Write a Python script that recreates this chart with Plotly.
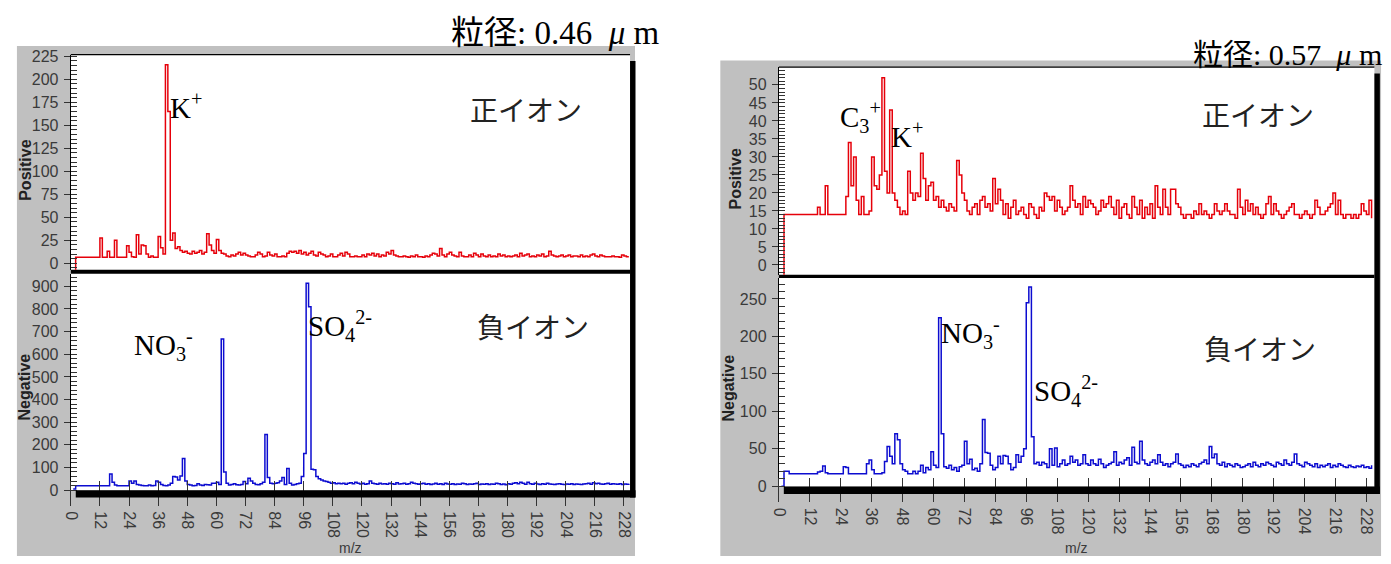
import plotly.graph_objects as go

W, H = 1391, 564

# ---------------- data (m/z 1..230) ----------------
mz = list(range(1, 231))

pos_046 = [
    -15, 6.5, 6.5, 6.5, 6.5, 6.5, 6.5, 6.5, 6.5, 6.5,
    6.5, 27.5, 6.5, 6.5, 13, 6.5, 6.5, 25, 6.5, 6.5,
    6.5, 6.5, 19, 12, 7, 6.5, 31, 10, 20, 19,
    10, 6.5, 8, 6.5, 6.5, 29, 17, 10, 216, 165,
    25, 33, 16, 18, 14, 12, 13, 11, 10, 13,
    11, 12, 14, 10, 12, 32, 20, 14, 11, 26,
    14, 11, 10, 8, 7, 9, 8, 10, 12, 9,
    11, 9, 8, 7, 7, 9, 12, 10, 7, 8,
    12, 9, 8, 10, 7, 7, 8, 7, 11, 13,
    12, 13, 11, 14, 10, 12, 9, 11, 13, 9,
    8, 12, 10, 9, 7, 8, 10, 7, 7, 9,
    11, 8, 12, 10, 7, 7, 8, 7, 7, 9,
    7, 10, 9, 11, 8, 10, 7, 9, 8, 12,
    10, 14, 9, 8, 7, 7, 8, 7, 6.5, 8,
    7, 9, 7, 7, 6.5, 8, 7, 9, 11, 10,
    8, 16, 9, 7, 10, 12, 9, 8, 7, 12,
    8, 7, 7, 9, 7, 11, 9, 7, 10, 8,
    7, 9, 7, 8, 7, 10, 8, 9, 7, 8,
    7, 8, 9, 7, 11, 8, 9, 10, 7, 8,
    7, 9, 8, 10, 7, 8, 13, 9, 8, 7,
    8, 9, 7, 8, 9, 7, 8, 8, 7, 9,
    7, 8, 7, 9, 10, 8, 7, 9, 8, 7,
    7, 7, 8, 7, 7, 6.5, 9, 8, 7, 7,
]

neg_046 = [
    5, 19, 19, 19, 19, 19, 19, 19, 19, 19,
    19, 19, 19, 19, 19, 71, 35, 22, 19, 19,
    19, 19, 19, 40, 30, 40, 25, 22, 20, 19,
    19, 22, 19, 20, 40, 35, 25, 20, 19, 22,
    30, 60, 58, 45, 62, 140, 40, 25, 22, 19,
    20, 28, 22, 20, 25, 24, 22, 30, 30, 35,
    25, 667, 80, 30, 22, 25, 28, 24, 22, 25,
    38, 28, 52, 40, 30, 25, 24, 28, 35, 245,
    55, 30, 28, 30, 32, 40, 56, 25, 95, 30,
    22, 25, 28, 30, 60, 162, 914, 810, 92, 90,
    60, 50, 45, 40, 38, 35, 30, 32, 28, 30,
    28, 30, 26, 30, 32, 28, 35, 30, 27, 30,
    26, 28, 40, 30, 28, 26, 30, 27, 28, 26,
    30, 28, 26, 32, 27, 28, 30, 26, 28, 35,
    30, 28, 26, 28, 30, 26, 28, 25, 27, 30,
    26, 28, 25, 30, 27, 26, 28, 25, 27, 26,
    30, 28, 25, 27, 26, 28, 30, 25, 27, 26,
    28, 25, 27, 26, 30, 28, 25, 27, 24, 28,
    26, 30, 32, 28, 35, 30, 26, 34, 28, 26,
    30, 27, 25, 28, 26, 30, 27, 26, 25, 27,
    28, 26, 25, 27, 26, 28, 25, 27, 26, 25,
    27, 28, 30, 26, 32, 28, 30, 27, 26, 28,
    30, 26, 28, 27, 26, 28, 25, 27, 26, 28,
]

pos_057 = [
    -10, 14, 14, 14, 14, 14, 14, 14, 14, 14,
    14, 14, 14, 14, 16, 14, 14, 22, 14, 14,
    14, 14, 14, 14, 14, 19, 34, 22, 30, 18,
    14, 19, 14, 14, 15, 30, 22, 21, 25, 52,
    26, 20, 43, 20, 18, 16, 14, 15, 14, 26,
    20, 18, 20, 19, 31, 24, 18, 22, 23, 18,
    19, 16, 18, 16, 15, 17, 16, 15, 29, 25,
    20, 18, 15, 14, 16, 17, 14, 18, 19, 16,
    17, 15, 24, 17, 21, 18, 14, 17, 13, 16,
    18, 14, 15, 16, 14, 13, 17, 16, 14, 13,
    16, 15, 20, 19, 18, 19, 15, 18, 16, 14,
    15, 16, 22, 18, 16, 17, 14, 19, 16, 18,
    17, 16, 14, 15, 18, 16, 17, 19, 16, 14,
    18, 13, 16, 17, 14, 13, 19, 16, 14, 18,
    13, 16, 14, 17, 13, 22, 16, 14, 21, 16,
    14, 21, 21, 17, 16, 14, 13, 14, 14, 13,
    15, 14, 17, 14, 15, 14, 13, 14, 17, 15,
    14, 15, 17, 15, 14, 14, 13, 21, 16, 14,
    18, 15, 17, 14, 16, 14, 13, 14, 17, 19,
    14, 17, 15, 14, 13, 14, 15, 16, 17, 14,
    14, 13, 14, 15, 14, 13, 14, 18, 16, 14,
    14, 15, 16, 17, 20, 14, 18, 14, 13, 14,
    14, 13, 14, 13, 14, 17, 15, 14, 18, 13,
]

neg_057 = [
    0, 20, 20, 16.5, 16.5, 16.5, 16.5, 16.5, 16.5, 16.5,
    16.5, 16.5, 16.5, 16.5, 19, 20, 27, 18, 16.5, 16.5,
    16.5, 16.5, 16.5, 16.5, 26, 25, 16.5, 16.5, 16.5, 16.5,
    16.5, 16.5, 16.5, 30, 35, 22, 16.5, 16.5, 16.5, 18,
    33, 53, 40, 30, 70, 62, 30, 22, 20, 16.5,
    16.5, 20, 16.5, 20, 28, 18, 25, 22, 46, 28,
    25, 225, 70, 26, 24, 28, 22, 25, 20, 26,
    28, 60, 30, 36, 22, 24, 20, 30, 89, 45,
    44, 28, 22, 25, 40, 30, 41, 40, 30, 22,
    25, 42, 32, 40, 50, 245, 266, 66, 30, 32,
    28, 32, 30, 25, 50, 28, 51, 26, 30, 35,
    28, 30, 40, 32, 35, 28, 30, 42, 30, 28,
    35, 30, 28, 36, 30, 25, 28, 30, 32, 46,
    28, 32, 30, 35, 38, 28, 52, 32, 30, 60,
    35, 30, 28, 32, 35, 30, 42, 32, 28, 30,
    26, 30, 32, 43, 30, 28, 25, 28, 26, 30,
    28, 26, 30, 32, 35, 30, 53, 38, 43, 30,
    28, 32, 26, 30, 28, 26, 30, 28, 25, 26,
    28, 30, 26, 32, 28, 26, 30, 28, 32, 30,
    28, 26, 32, 30, 28, 35, 30, 28, 32, 43,
    30, 28, 26, 32, 30, 28, 26, 30, 25, 28,
    26, 28, 30, 25, 28, 26, 30, 28, 26, 25,
    28, 26, 25, 27, 26, 28, 25, 26, 24, 28,
]

titles = ["粒径: 0.46\u00a0\u00a0<i>μ</i>\u00a0m", "粒径: 0.57\u00a0\u00a0<i>μ</i>\u00a0m"]
ion_pos = "正イオン"
ion_neg = "負イオン"

# ---------------- styling helpers ----------------
RED = "#e6000a"
BLUE = "#0c0cd0"
GREY = "#c0c0c0"
TICKC = "#333333"
TICKFONT = dict(family="Liberation Sans Narrow, Arial Narrow, Liberation Sans", size=16, color="#3a3a3a")
SERIF = "Liberation Serif, Noto Sans CJK JP"
CJK = "Noto Sans CJK JP"


def fx(p):
    return p / W


def fy(p):
    return 1 - p / H


fig = go.Figure()

panels = [
    dict(xl=63.3, xr=627.0, pt=49.0, pb=270.0, nt=274.0, nb=496.5,
         xmax=230.5, prange=[-7.1, 226.8], pdt=25, pminor=5,
         nrange=[-1, 955.8], ndt=100, nminor=20,
         grey=(9, 40, 632, 564), tickpos=486.0, ticklen=25,
         pos=pos_046, neg=neg_046),
    dict(xl=777.0, xr=1377.3, pt=61.7, pb=275.0, nt=278.5, nb=492.7,
         xmax=231.1, prange=[-2.7, 54.95], pdt=5, pminor=1,
         nrange=[-0.5, 277.9], ndt=50, nminor=10,
         grey=(718, 55, 1384, 564), tickpos=483.3, ticklen=24,
         pos=pos_057, neg=neg_057),
]

shapes = []
layout_axes = {}
ax_i = 1
for k, p in enumerate(panels):
    xa_p, ya_p = ax_i, ax_i
    xa_n, ya_n = ax_i + 1, ax_i + 1
    ax_i += 2
    gx0, gy0, gx1, gy1 = p["grey"]
    shapes.append(dict(type="rect", xref="paper", yref="paper", x0=fx(gx0), x1=fx(gx1),
                       y0=fy(gy1), y1=fy(gy0), fillcolor=GREY, line_width=0, layer="below"))
    shapes.append(dict(type="rect", xref="paper", yref="paper", x0=fx(p["xl"]), x1=fx(p["xr"]),
                       y0=fy(p["nb"]), y1=fy(p["pt"]), fillcolor="white", line_width=0, layer="below"))
    shapes.append(dict(type="rect", xref="paper", yref="paper", x0=fx(p["xl"]), x1=fx(p["xr"]),
                       y0=fy(p["nt"]), y1=fy(p["pb"]), fillcolor="black", line_width=0, layer="below"))
    shapes.append(dict(type="line", xref="paper", yref="paper", x0=fx(p["xl"]), x1=fx(p["xr"]),
                       y0=fy(p["pt"]), y1=fy(p["pt"]), line=dict(color="black", width=1.2), layer="above"))
    shapes.append(dict(type="rect", xref="paper", yref="paper", x0=fx(p["xr"]), x1=fx(p["xr"] + 5.5),
                       y0=fy(p["nb"] + 7.5), y1=fy(p["pt"] + 6.5), fillcolor="black", line_width=0, layer="above"))
    shapes.append(dict(type="rect", xref="paper", yref="paper", x0=fx(p["xl"] + 5), x1=fx(p["xr"] + 5.5),
                       y0=fy(p["nb"] + 7.5), y1=fy(p["nb"]), fillcolor="black", line_width=0, layer="above"))

    xdom = [fx(p["xl"]), fx(p["xr"])]
    layout_axes[f"xaxis{'' if xa_p == 1 else xa_p}"] = dict(
        domain=xdom, range=[0, p["xmax"]], anchor=f"y{'' if ya_p == 1 else ya_p}",
        showticklabels=False, ticks="", showgrid=False, zeroline=False, showline=False)
    layout_axes[f"yaxis{'' if ya_p == 1 else ya_p}"] = dict(
        domain=[fy(p["pb"]), fy(p["pt"])], range=p["prange"], anchor=f"x{'' if xa_p == 1 else xa_p}",
        tick0=0, dtick=p["pdt"], ticks="outside", ticklen=6, tickcolor=TICKC, tickwidth=1,
        minor=dict(ticks="inside", ticklen=6, dtick=p["pminor"], tick0=0, tickcolor=TICKC),
        showline=True, linecolor="black", linewidth=1.2, showgrid=False, zeroline=False,
        tickfont=TICKFONT, ticklabelstandoff=2)
    layout_axes[f"xaxis{xa_n}"] = dict(
        domain=xdom, range=[0, p["xmax"]], anchor="free", position=fy(p["tickpos"]),
        tick0=0, dtick=12, ticks="outside", ticklen=p["ticklen"], tickcolor=TICKC, tickwidth=1,
        tickangle=90, tickfont=TICKFONT, showgrid=False, zeroline=False, showline=False,
        ticklabelstandoff=2)
    layout_axes[f"yaxis{ya_n}"] = dict(
        domain=[fy(p["nb"]), fy(p["nt"])], range=p["nrange"], anchor=f"x{xa_n}",
        tick0=0, dtick=p["ndt"], ticks="outside", ticklen=6, tickcolor=TICKC, tickwidth=1,
        minor=dict(ticks="inside", ticklen=6, dtick=p["nminor"], tick0=0, tickcolor=TICKC),
        showline=True, linecolor="black", linewidth=1.2, showgrid=False, zeroline=False,
        tickfont=TICKFONT, ticklabelstandoff=2)

    fig.add_trace(go.Scatter(x=mz, y=p["pos"], mode="lines",
                             line=dict(color=RED, width=1.5, shape="hv"),
                             xaxis=f"x{'' if xa_p == 1 else xa_p}", yaxis=f"y{'' if ya_p == 1 else ya_p}",
                             showlegend=False, hoverinfo="skip"))
    fig.add_trace(go.Scatter(x=mz, y=p["neg"], mode="lines",
                             line=dict(color=BLUE, width=1.5, shape="hv"),
                             xaxis=f"x{xa_n}", yaxis=f"y{ya_n}",
                             showlegend=False, hoverinfo="skip"))

annotations = []


def ann(text, x, y, size, family, xanchor="left", yanchor="middle", angle=0, color="black"):
    annotations.append(dict(text=text, x=fx(x), y=fy(y), xref="paper", yref="paper",
                            xanchor=xanchor, yanchor=yanchor, showarrow=False, textangle=angle,
                            font=dict(size=size, family=family, color=color)))


AXT = "Liberation Sans, Arial"
ann("<b>Positive</b>", 17.7, 167.7, 16, AXT, xanchor="center", angle=-90, color="#222")
ann("<b>Negative</b>", 17.0, 390.0, 16, AXT, xanchor="center", angle=-90, color="#222")
ann("<b>Positive</b>", 733.0, 177.0, 16, AXT, xanchor="center", angle=-90, color="#222")
ann("<b>Negative</b>", 726.7, 391.0, 16, AXT, xanchor="center", angle=-90, color="#222")
ann("m/z", 345, 556, 14, TICKFONT["family"], xanchor="center", color="#3a3a3a")
ann("m/z", 1077, 556, 14, TICKFONT["family"], xanchor="center", color="#3a3a3a")

ann(titles[0], 445, 27, 33, SERIF)
ann(titles[1], 1192, 49, 30, SERIF)

ann(ion_pos, 522, 105, 28, CJK, xanchor="center", color="#222")
ann(ion_neg, 529, 328, 28, CJK, xanchor="center", color="#222")
ann(ion_pos, 1260, 110, 28, CJK, xanchor="center", color="#222")
ann(ion_neg, 1262, 350, 28, CJK, xanchor="center", color="#222")

ann("K<sup>+</sup>", 161, 102, 29, SERIF)
ann("NO<sub>3</sub><sup>-</sup>", 125, 347, 29, SERIF)
ann("SO<sub>4</sub><sup>2-</sup>", 300, 328, 29, SERIF)
ann("C<sub>3</sub><sup>+</sup>", 836.7, 113, 29, SERIF)
ann("K<sup>+</sup>", 888, 132, 29, SERIF)
ann("NO<sub>3</sub><sup>-</sup>", 938.3, 335, 29, SERIF)
ann("SO<sub>4</sub><sup>2-</sup>", 1032, 394, 29, SERIF)

fig.update_layout(
    width=W, height=H, margin=dict(l=0, r=0, t=0, b=0),
    paper_bgcolor="white", plot_bgcolor="rgba(0,0,0,0)",
    shapes=shapes, annotations=annotations, showlegend=False,
    **layout_axes,
)

fig.write_html("out.html")
